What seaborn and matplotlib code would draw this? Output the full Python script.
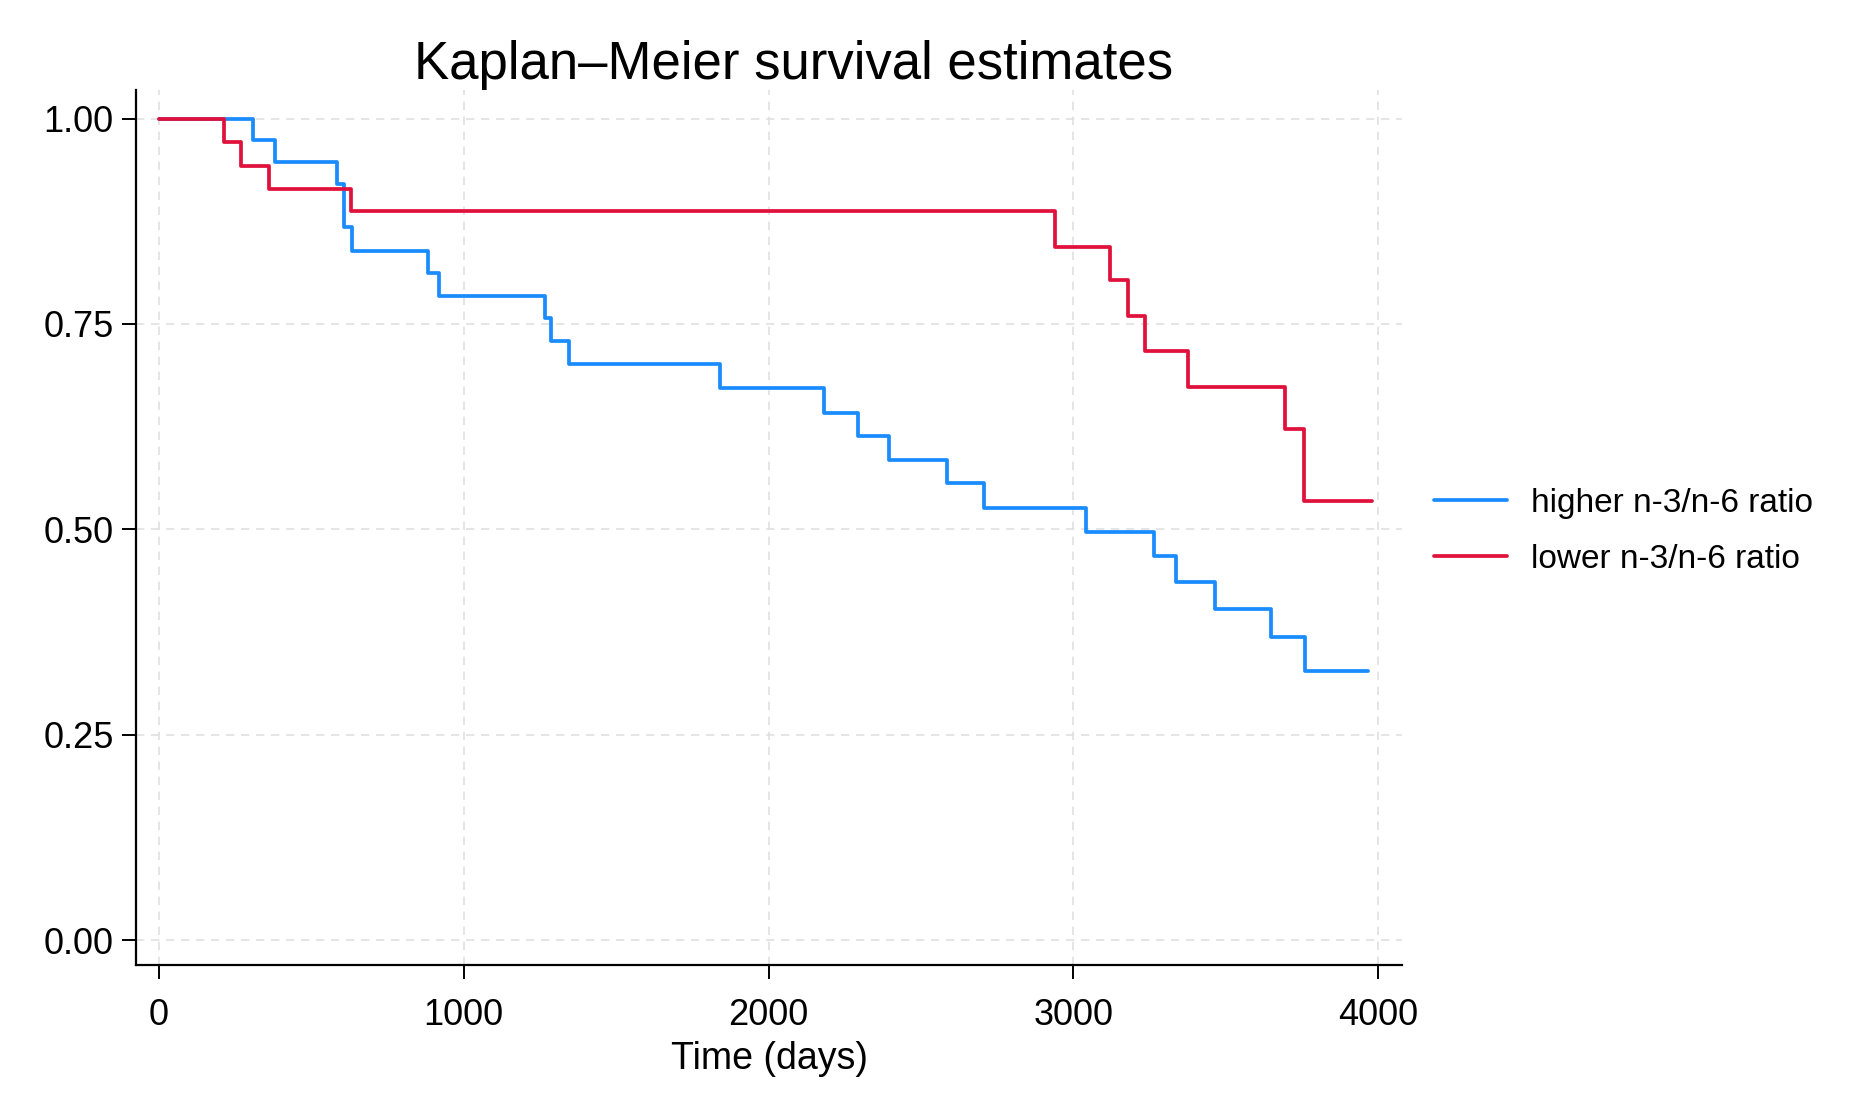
import numpy as np
import pandas as pd
import seaborn as sns
from matplotlib import pyplot as plt

# step points (time in days, survival probability)
higher_time = [0, 310, 380, 584, 607, 632, 884, 920, 1268, 1285, 1346, 1840, 2182, 2293,
               2394, 2587, 2707, 3043, 3266, 3337, 3466, 3649, 3759, 3967]
higher_surv = [1.0, 0.974, 0.947, 0.920, 0.868, 0.839, 0.812, 0.784, 0.757, 0.729, 0.701,
               0.672, 0.642, 0.614, 0.584, 0.556, 0.526, 0.497, 0.467, 0.436, 0.403, 0.369,
               0.328, 0.328]
lower_time = [0, 215, 271, 361, 629, 2940, 3121, 3180, 3234, 3376, 3694, 3757, 3980]
lower_surv = [1.0, 0.972, 0.942, 0.914, 0.887, 0.844, 0.803, 0.760, 0.717, 0.673, 0.622,
              0.534, 0.534]
groups = ["higher n-3/n-6 ratio", "lower n-3/n-6 ratio"]
x_ticks = [0, 1000, 2000, 3000, 4000]
y_ticks = [0.0, 0.25, 0.5, 0.75, 1.0]

df = pd.concat([
    pd.DataFrame({"time": higher_time, "surv": higher_surv, "group": groups[0]}),
    pd.DataFrame({"time": lower_time, "surv": lower_surv, "group": groups[1]}),
], ignore_index=True)

sns.set_style("white")
plt.rcParams["font.family"] = ["Liberation Sans", "DejaVu Sans"]
plt.rcParams["text.color"] = "black"
plt.rcParams["axes.labelcolor"] = "black"
plt.rcParams["xtick.color"] = "black"
plt.rcParams["ytick.color"] = "black"

fig = plt.figure(figsize=(18.5, 11.09), dpi=100)
ax = fig.add_axes([0.0735, 0.130, 0.6845, 0.789])

palette = {groups[0]: "#1a8cff", groups[1]: "#e0123c"}
sns.lineplot(data=df, x="time", y="surv", hue="group", palette=palette, estimator=None,
             sort=False, drawstyle="steps-post", linewidth=2.7, ax=ax)

ax.set_xlim(-75, 4079)
ax.set_ylim(-0.03, 1.035)
ax.set_xticks(x_ticks)
ax.set_yticks(y_ticks)
ax.set_yticklabels([f"{v:.2f}" for v in y_ticks])
ax.grid(True, linestyle=(0, (5, 4)), color="#e0e0e0", linewidth=1.2)
for s in ["top", "right"]:
    ax.spines[s].set_visible(False)
for s in ["left", "bottom"]:
    ax.spines[s].set_color("black")
    ax.spines[s].set_linewidth(1.6)
ax.tick_params(axis="both", labelsize=26, length=10, width=1.4, direction="out",
               left=True, bottom=True)
ax.tick_params(axis="y", pad=6)
ax.tick_params(axis="x", pad=14)
ax.set_xlabel("Time (days)", fontsize=27, labelpad=6)
ax.set_ylabel("")

fig.text(0.429, 0.941, "Kaplan\u2013Meier survival estimates", fontsize=38,
         ha="center", va="center")

ax.legend(loc="center left", bbox_to_anchor=(0.775, 0.521), bbox_transform=fig.transFigure,
          frameon=False, fontsize=24, handlelength=2.2, handletextpad=0.72,
          borderpad=0, borderaxespad=0, labelspacing=0.75)

fig.savefig("out.png", dpi=100, facecolor="white")
